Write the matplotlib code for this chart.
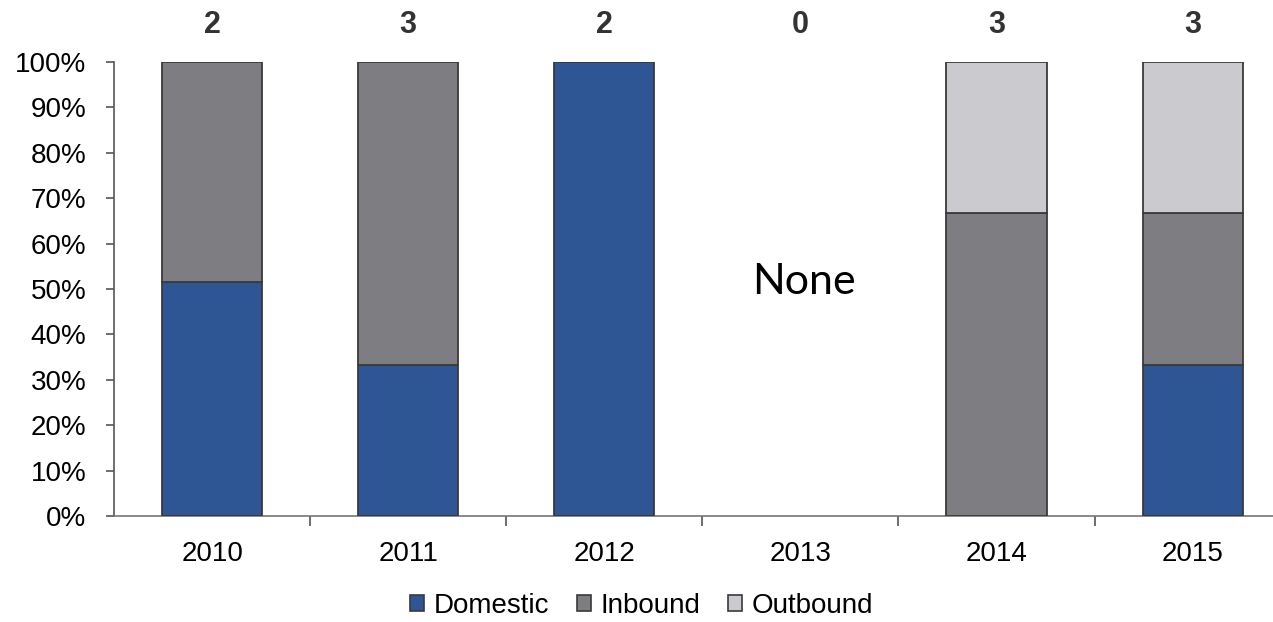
import matplotlib.pyplot as plt
import matplotlib.transforms as mtransforms
import numpy as np

plt.rcParams['font.family'] = ['Liberation Sans', 'DejaVu Sans']

# Data
years = ['2010', '2011', '2012', '2013', '2014', '2015']
deal_counts = [2, 3, 2, 0, 3, 3]
domestic = [51.5, 33.3, 100.0, 0.0, 0.0, 33.3]
inbound = [48.5, 66.7, 0.0, 0.0, 66.7, 33.4]
outbound = [0.0, 0.0, 0.0, 0.0, 33.3, 33.3]

colors = {'Domestic': '#2e5594', 'Inbound': '#7e7d82', 'Outbound': '#cbcace'}
edge = '#3a3a3a'

fig = plt.figure(figsize=(12.73, 6.22), dpi=100)
ax = fig.add_axes([0.0896, 0.1704, 0.9104, 0.7299])

x = np.arange(len(years))
width = 0.51

dom = np.array(domestic) / 100
inb = np.array(inbound) / 100
out = np.array(outbound) / 100

def draw(vals, bottom, label):
    mask = vals > 0
    ax.bar(x[mask], vals[mask], width, bottom=bottom[mask], color=colors[label],
           edgecolor=edge, linewidth=1.3, zorder=3)

draw(dom, np.zeros(len(x)), 'Domestic')
draw(inb, dom, 'Inbound')
draw(out, dom + inb, 'Outbound')

ax.set_xlim(-0.5, 5.41)
ax.set_ylim(0, 1)

ax.set_yticks(np.arange(0, 1.01, 0.1))
ax.set_yticklabels([f"{int(round(v * 100))}%" for v in np.arange(0, 1.01, 0.1)], fontsize=20)
ax.tick_params(axis='y', length=6, width=1.2, color='#555555', pad=14)

# Category labels centred, ticks on category boundaries
ax.set_xticks(x)
ax.set_xticklabels(years, fontsize=20)
ax.tick_params(axis='x', length=0, pad=18)
ax.set_xticks(x[:-1] + 0.5, minor=True)
ax.tick_params(axis='x', which='minor', length=7, width=1.2, color='#555555', direction='out')

for side in ['top', 'right']:
    ax.spines[side].set_visible(False)
ax.spines['left'].set_color('#555555')
ax.spines['left'].set_linewidth(1.2)
ax.spines['bottom'].set_color('#777777')
ax.spines['bottom'].set_linewidth(1.2)

# Deal counts above the bars
trans = mtransforms.blended_transform_factory(ax.transData, ax.transAxes)
for xi, n in zip(x, deal_counts):
    ax.text(xi, 1.081, str(n), transform=trans, ha='center', va='center',
            fontsize=22, fontweight='bold', color='#333333')

ax.text(3.02, 0.515, 'None', ha='center', va='center', fontsize=31,
        family=['Lato', 'DejaVu Sans'], color='black')

handles = [plt.Rectangle((0, 0), 1, 1, facecolor=colors[k], edgecolor=edge, linewidth=1.2)
           for k in ['Domestic', 'Inbound', 'Outbound']]
fig.legend(handles, ['Domestic', 'Inbound', 'Outbound'], loc='center',
           bbox_to_anchor=(0.504, 0.026), ncol=3, frameon=False, fontsize=20,
           handlelength=0.5, handleheight=0.5, handletextpad=0.35, columnspacing=1.0)

fig.savefig('out.png', dpi=100)
